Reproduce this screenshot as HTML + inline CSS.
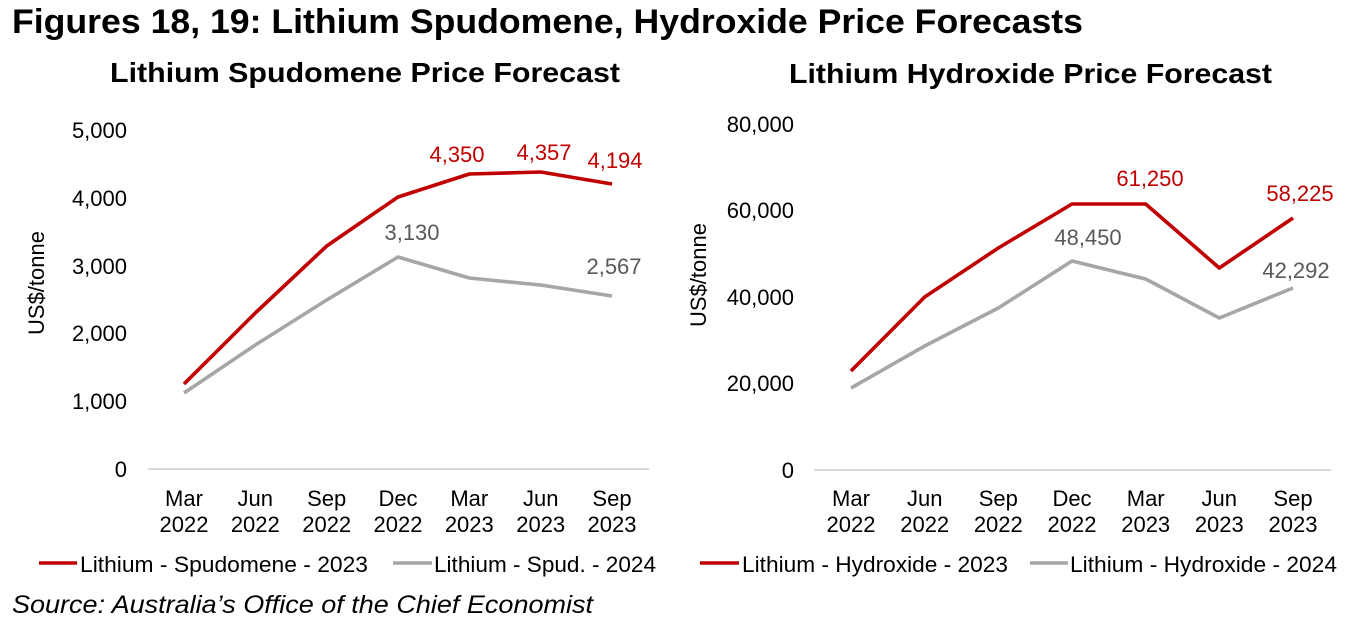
<!DOCTYPE html>
<html>
<head>
<meta charset="utf-8">
<style>
  html, body { margin: 0; padding: 0; background: #ffffff; }
  svg { display: block; }
  text { font-family: "Liberation Sans", Arial, sans-serif; }
</style>
</head>
<body>
<svg width="1357" height="633" viewBox="0 0 1357 633" xmlns="http://www.w3.org/2000/svg">
  <rect x="0" y="0" width="1357" height="633" fill="#ffffff"/>

  <!-- Main title -->
  <text x="12" y="33" font-size="34" font-weight="bold" fill="#000" textLength="1071" lengthAdjust="spacingAndGlyphs">Figures 18, 19: Lithium Spudomene, Hydroxide Price Forecasts</text>

  <!-- ============ LEFT CHART ============ -->
  <text x="110" y="82" font-size="28" font-weight="bold" fill="#000" textLength="510" lengthAdjust="spacingAndGlyphs">Lithium Spudomene Price Forecast</text>

  <!-- y tick labels -->
  <g font-size="22" fill="#000" text-anchor="end">
    <text x="127" y="138">5,000</text>
    <text x="127" y="206">4,000</text>
    <text x="127" y="274">3,000</text>
    <text x="127" y="341">2,000</text>
    <text x="127" y="409">1,000</text>
    <text x="127" y="477">0</text>
  </g>
  <!-- y axis title -->
  <text transform="translate(44,283) rotate(-90)" font-size="22" fill="#000" text-anchor="middle">US$/tonne</text>

  <!-- baseline -->
  <line x1="148" y1="469" x2="649" y2="469" stroke="#d9d9d9" stroke-width="2"/>

  <!-- x labels -->
  <g font-size="22" fill="#000" text-anchor="middle">
    <text x="184" y="506">Mar</text><text x="184" y="532">2022</text>
    <text x="255.3" y="506">Jun</text><text x="255.3" y="532">2022</text>
    <text x="326.7" y="506">Sep</text><text x="326.7" y="532">2022</text>
    <text x="398" y="506">Dec</text><text x="398" y="532">2022</text>
    <text x="469.3" y="506">Mar</text><text x="469.3" y="532">2023</text>
    <text x="540.7" y="506">Jun</text><text x="540.7" y="532">2023</text>
    <text x="612" y="506">Sep</text><text x="612" y="532">2023</text>
  </g>

  <!-- series -->
  <polyline fill="none" stroke="#a6a6a6" stroke-width="3.6" stroke-linejoin="round"
    points="184,393 255.3,345 326.7,300 398,257 469.3,278 540.7,285 612,296"/>
  <polyline fill="none" stroke="#c00000" stroke-width="3.6" stroke-linejoin="round"
    points="184,384 255.3,313 326.7,246 398,197 469.3,174 540.7,172 612,184"/>

  <!-- data labels -->
  <g font-size="22" text-anchor="middle">
    <text x="457" y="162" fill="#c00000">4,350</text>
    <text x="544" y="160" fill="#c00000">4,357</text>
    <text x="615" y="168" fill="#c00000">4,194</text>
    <text x="412" y="240" fill="#595959">3,130</text>
    <text x="614" y="274" fill="#595959">2,567</text>
  </g>

  <!-- legend -->
  <line x1="39" y1="563" x2="77" y2="563" stroke="#c00000" stroke-width="3.6"/>
  <text x="80" y="572" font-size="22" fill="#000" textLength="288" lengthAdjust="spacingAndGlyphs">Lithium - Spudomene - 2023</text>
  <line x1="393" y1="563" x2="432" y2="563" stroke="#a6a6a6" stroke-width="3.6"/>
  <text x="434" y="572" font-size="22" fill="#000" textLength="222" lengthAdjust="spacingAndGlyphs">Lithium - Spud. - 2024</text>

  <!-- ============ RIGHT CHART ============ -->
  <text x="789" y="83" font-size="28" font-weight="bold" fill="#000" textLength="483" lengthAdjust="spacingAndGlyphs">Lithium Hydroxide Price Forecast</text>

  <g font-size="22" fill="#000" text-anchor="end">
    <text x="794" y="132">80,000</text>
    <text x="794" y="218">60,000</text>
    <text x="794" y="305">40,000</text>
    <text x="794" y="391">20,000</text>
    <text x="794" y="478">0</text>
  </g>
  <text transform="translate(706,275) rotate(-90)" font-size="22" fill="#000" text-anchor="middle">US$/tonne</text>

  <line x1="814" y1="470" x2="1331" y2="470" stroke="#d9d9d9" stroke-width="2"/>

  <g font-size="22" fill="#000" text-anchor="middle">
    <text x="851" y="506">Mar</text><text x="851" y="532">2022</text>
    <text x="924.7" y="506">Jun</text><text x="924.7" y="532">2022</text>
    <text x="998.3" y="506">Sep</text><text x="998.3" y="532">2022</text>
    <text x="1072" y="506">Dec</text><text x="1072" y="532">2022</text>
    <text x="1145.7" y="506">Mar</text><text x="1145.7" y="532">2023</text>
    <text x="1219.3" y="506">Jun</text><text x="1219.3" y="532">2023</text>
    <text x="1293" y="506">Sep</text><text x="1293" y="532">2023</text>
  </g>

  <polyline fill="none" stroke="#a6a6a6" stroke-width="3.6" stroke-linejoin="round"
    points="851,388 924.7,346 998.3,308 1072,261 1145.7,279 1219.3,318 1293,288"/>
  <polyline fill="none" stroke="#c00000" stroke-width="3.6" stroke-linejoin="round"
    points="851,371 924.7,297 998.3,248 1072,204 1145.7,204 1219.3,268 1293,218"/>

  <g font-size="22" text-anchor="middle">
    <text x="1150" y="186" fill="#c00000">61,250</text>
    <text x="1300" y="201" fill="#c00000">58,225</text>
    <text x="1088" y="245" fill="#595959">48,450</text>
    <text x="1296" y="278" fill="#595959">42,292</text>
  </g>

  <line x1="700" y1="563" x2="739" y2="563" stroke="#c00000" stroke-width="3.6"/>
  <text x="742" y="572" font-size="22" fill="#000" textLength="266" lengthAdjust="spacingAndGlyphs">Lithium - Hydroxide - 2023</text>
  <line x1="1030" y1="563" x2="1068" y2="563" stroke="#a6a6a6" stroke-width="3.6"/>
  <text x="1070" y="572" font-size="22" fill="#000" textLength="267" lengthAdjust="spacingAndGlyphs">Lithium - Hydroxide - 2024</text>

  <!-- Source -->
  <text x="12" y="613" font-size="25" font-style="italic" fill="#000" textLength="581" lengthAdjust="spacingAndGlyphs">Source: Australia’s Office of the Chief Economist</text>
</svg>
</body>
</html>
